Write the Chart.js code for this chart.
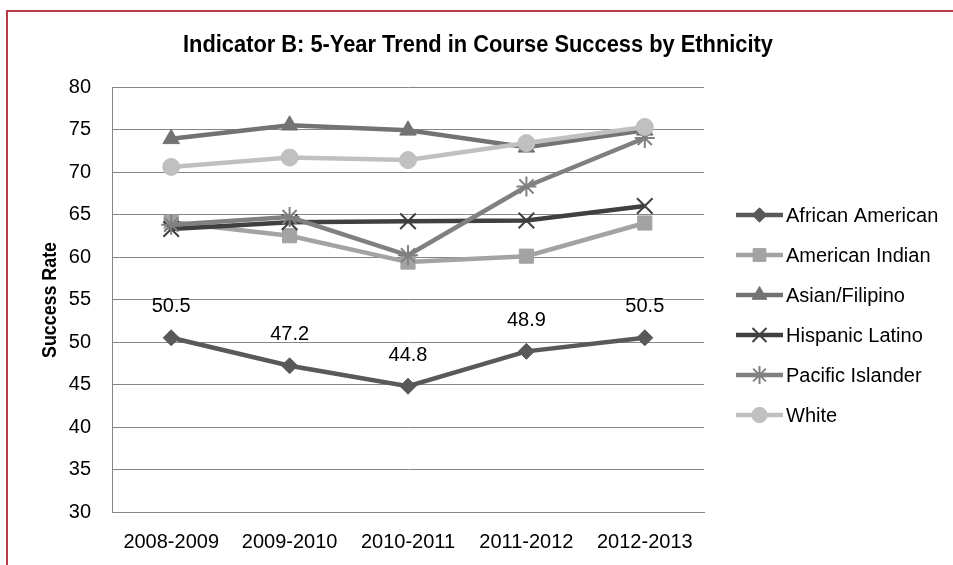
<!DOCTYPE html>
<html>
<head>
<meta charset="utf-8">
<title>Indicator B: 5-Year Trend in Course Success by Ethnicity</title>
<script src="https://cdn.jsdelivr.net/npm/chart.js@4.4.1/dist/chart.umd.min.js"></script>
<style>
  html, body { margin: 0; padding: 0; background: #fff; }
  #wrap { position: relative; width: 953px; height: 565px; }
</style>
</head>
<body>
<div id="wrap"><canvas id="chart" width="953" height="565"></canvas></div>
<script>
// Data
const years = ['2008-2009', '2009-2010', '2010-2011', '2011-2012', '2012-2013'];
const seriesNames = ['African American', 'American Indian', 'Asian/Filipino', 'Hispanic Latino', 'Pacific Islander', 'White'];

const africanAmerican = [50.5, 47.2, 44.8, 48.9, 50.5];
const americanIndian = [64.1, 62.5, 59.4, 60.1, 64.0];
const asianFilipino = [73.9, 75.5, 74.9, 72.9, 74.9];
const hispanicLatino = [63.3, 64.1, 64.2, 64.3, 66.0];
const pacificIslander = [63.8, 64.7, 60.2, 68.3, 74.0];
const white = [70.6, 71.7, 71.4, 73.4, 75.3];

const yTicks = { min: 30, max: 80, step: 5 };

// Look of each series (Excel-style grey scale)
const styles = [
  { color: '#595959', point: 'rectRot', radius: 8 },
  { color: '#a3a3a3', point: 'rect', radius: 10 },
  { color: '#737373', point: 'triangle', radius: 9.5 },
  { color: '#404040', point: 'crossRot', radius: 11 },
  { color: '#808080', point: 'star', radius: 10 },
  { color: '#c0c0c0', point: 'circle', radius: 8.5 },
];

const values = [africanAmerican, americanIndian, asianFilipino, hispanicLatino, pacificIslander, white];

const datasets = values.map((data, i) => {
  const s = styles[i];
  const isCross = s.point === 'crossRot' || s.point === 'star';
  return {
    label: seriesNames[i],
    data,
    borderColor: s.color,
    backgroundColor: s.color,
    borderWidth: 4.5,
    pointStyle: s.point,
    pointRadius: s.radius,
    pointHoverRadius: s.radius,
    pointBorderWidth: isCross ? 2 : 1,
    pointBorderColor: s.color,
    pointBackgroundColor: s.color,
    tension: 0,
    order: values.length - i, // later series on top, as in Excel
  };
});

const FONT = "'Liberation Sans', Arial, sans-serif";

// Frame, titles, legend and labels
const decorations = {
  id: 'decorations',
  beforeDraw(chart) {
    const ctx = chart.ctx;
    ctx.save();
    ctx.fillStyle = '#ffffff';
    ctx.fillRect(0, 0, chart.width, chart.height);
    ctx.strokeStyle = '#b83a48';
    ctx.lineWidth = 2;
    ctx.beginPath();
    ctx.moveTo(chart.width, 11);
    ctx.lineTo(7, 11);
    ctx.lineTo(7, chart.height);
    ctx.stroke();

    ctx.fillStyle = '#000';
    ctx.font = `bold 23px ${FONT}`;
    ctx.textAlign = 'center';
    ctx.textBaseline = 'middle';
    ctx.fillText('Indicator B: 5-Year Trend in Course Success by Ethnicity', 478, 46, 590);

    // y axis title, narrowed like the original Calibri
    ctx.translate(50, 300);
    ctx.rotate(-Math.PI / 2);
    ctx.font = `bold 20px ${FONT}`;
    ctx.fillText('Success Rate', 0, 0, 116);
    ctx.restore();
  },
  afterDatasetsDraw(chart) {
    const ctx = chart.ctx;
    ctx.save();

    // value labels on the first series
    const meta = chart.getDatasetMeta(0);
    ctx.font = `20px ${FONT}`;
    ctx.fillStyle = '#000';
    ctx.textAlign = 'center';
    ctx.textBaseline = 'middle';
    meta.data.forEach((pt, i) => {
      ctx.fillText(africanAmerican[i].toFixed(1), pt.x, pt.y - 31);
    });

    // legend
    const x0 = 736, x1 = 783, top = 215, gap = 40;
    chart.data.datasets.forEach((ds, i) => {
      const y = top + i * gap;
      ctx.strokeStyle = ds.borderColor;
      ctx.lineWidth = 4.5;
      ctx.beginPath();
      ctx.moveTo(x0, y);
      ctx.lineTo(x1, y);
      ctx.stroke();
      ctx.fillStyle = ds.pointBackgroundColor;
      ctx.strokeStyle = ds.pointBorderColor;
      ctx.lineWidth = ds.pointBorderWidth;
      Chart.helpers.drawPoint(ctx, {
        pointStyle: ds.pointStyle,
        radius: ds.pointRadius * 0.9,
        rotation: 0,
        borderWidth: ds.pointBorderWidth,
      }, (x0 + x1) / 2, y);
      ctx.fillStyle = '#000';
      ctx.font = `20px ${FONT}`;
      ctx.textAlign = 'left';
      ctx.textBaseline = 'middle';
      ctx.fillText(ds.label, 786, y + 1);
    });
    ctx.restore();
  },
};

new Chart(document.getElementById('chart'), {
  type: 'line',
  data: { labels: years, datasets },
  options: {
    responsive: false,
    animation: false,
    events: [],
    layout: { padding: { left: 0, right: 249, top: 87, bottom: 0 } },
    plugins: {
      legend: { display: false },
      title: { display: false },
      tooltip: { enabled: false },
    },
    scales: {
      x: {
        offset: true,
        grid: { display: false, drawTicks: false },
        border: { display: true, color: '#868686', width: 1 },
        ticks: { color: '#000', font: { family: FONT, size: 20 }, padding: 18, maxRotation: 0 },
        afterFit(scale) { scale.height = 53; },
      },
      y: {
        min: yTicks.min,
        max: yTicks.max,
        grid: { color: '#868686', lineWidth: 1, drawTicks: false },
        border: { display: true, color: '#868686', width: 1 },
        ticks: { stepSize: yTicks.step, color: '#000', font: { family: FONT, size: 20 }, padding: 21 },
        afterFit(scale) { scale.width = 112; },
      },
    },
  },
  plugins: [decorations],
});
</script>
</body>
</html>
